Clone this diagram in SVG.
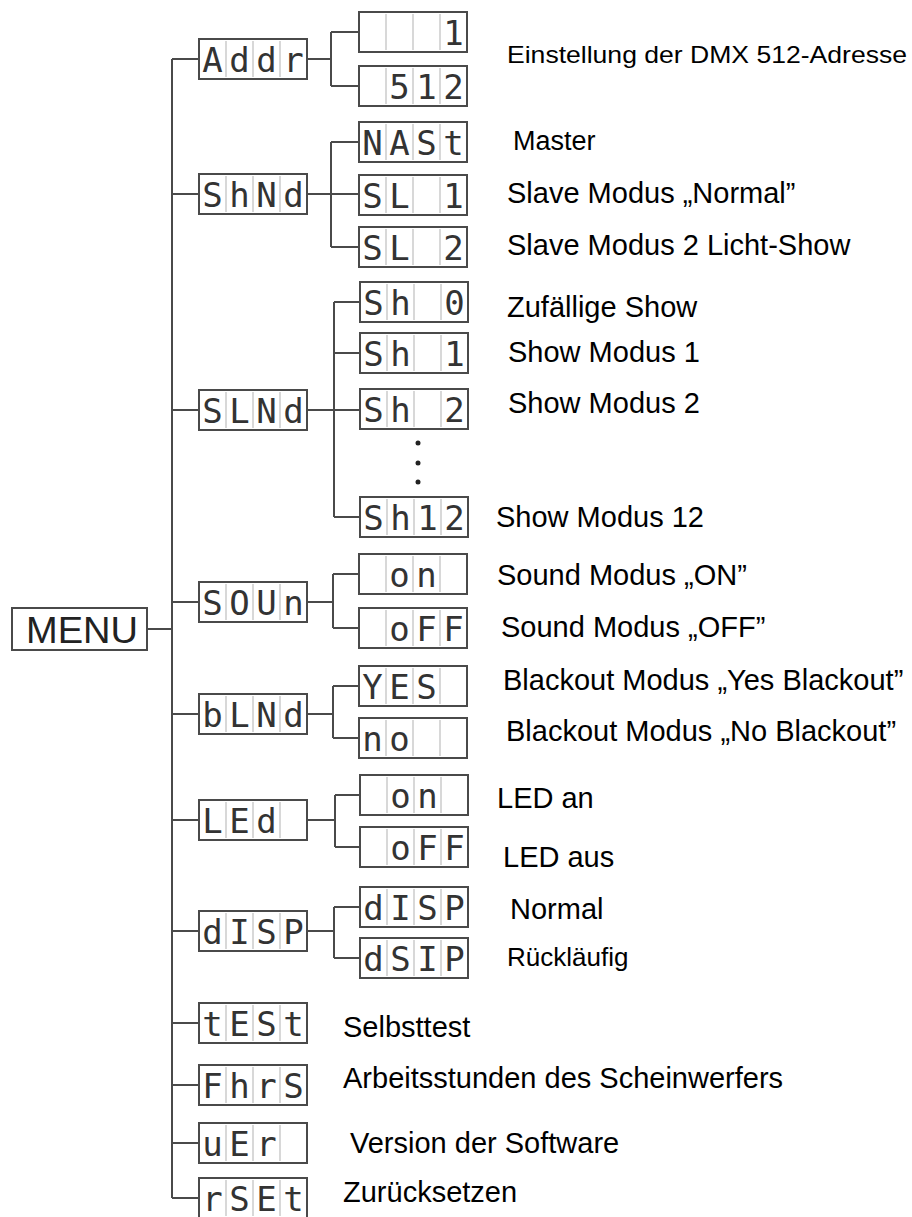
<svg xmlns="http://www.w3.org/2000/svg" xmlns:xlink="http://www.w3.org/1999/xlink" width="912" height="1217" viewBox="0 0 912 1217">
<style>
.box{fill:#fff;stroke:#4a4a4a;stroke-width:2}
.cell{stroke:#c4c4c4;stroke-width:1.3}
.seg{font-family:"DejaVu Sans Mono","Liberation Mono",monospace;font-size:34px;fill:#333;text-anchor:middle}
.lbl{font-family:"Liberation Sans",Arial,sans-serif;font-size:29px;fill:#000}
.wire{stroke:#4a4a4a;stroke-width:2;fill:none}
.menu{font-family:"Liberation Sans",Arial,sans-serif;font-size:37px;fill:#222}
</style>
<defs>
<g id="disp">
<rect class="box" x="0" y="0" width="108" height="40"/>
<path class="cell" d="M27 2V38M54 2V38M81 2V38"/>
</g>
</defs>
<rect width="912" height="1217" fill="#fff"/>
<g id="connectors">
<path class="wire" d="M172 59V1198M147 629H172"/>
<path class="wire" d="M172 59H199M172 194H199M172 410H199M172 602H199M172 714H199M172 820H199M172 931H199M172 1023H199M172 1085H199M172 1143H199M172 1198H199"/>
<path class="wire" d="M307 59H331M331 32V86M331 32H359M331 86H359"/>
<path class="wire" d="M307 194H331M331 142V247M331 142H359M331 194H359M331 247H359"/>
<path class="wire" d="M307 410H334M334 302V517M334 302H360M334 353H360M334 410H360M334 517H360"/>
<path class="wire" d="M307 602H333M333 574V628M333 574H359M333 628H359"/>
<path class="wire" d="M307 714H333M333 686V738M333 686H359M333 738H359"/>
<path class="wire" d="M307 820H335M335 795V847M335 795H360M335 847H360"/>
<path class="wire" d="M307 931H334M334 907V958M334 907H360M334 958H360"/>
</g>
<g id="menu">
<rect class="box" x="12" y="608" width="135" height="42"/>
<text class="menu" x="26" y="643" textLength="112" lengthAdjust="spacingAndGlyphs">MENU</text>
</g>
<g id="n-addr"><use xlink:href="#disp" x="199" y="39"/><text class="seg" x="212.5 239.5 266.5 293.5" y="72">Addr</text></g>
<g id="n-addr-1"><use xlink:href="#disp" x="359" y="12"/><text class="seg" x="453.5" y="45">1</text></g>
<g id="n-addr-512"><use xlink:href="#disp" x="359" y="66"/><text class="seg" x="399.5 426.5 453.5" y="99">512</text></g>
<g id="n-shnd"><use xlink:href="#disp" x="199" y="174"/><text class="seg" x="212.5 239.5 266.5 293.5" y="207">ShNd</text></g>
<g id="n-nast"><use xlink:href="#disp" x="359" y="122"/><text class="seg" x="372.5 399.5 426.5 453.5" y="155">NASt</text></g>
<g id="n-sl1"><use xlink:href="#disp" x="359" y="175"/><text class="seg" x="372.5 399.5 453.5" y="208">SL1</text></g>
<g id="n-sl2"><use xlink:href="#disp" x="359" y="227"/><text class="seg" x="372.5 399.5 453.5" y="260">SL2</text></g>
<g id="n-slnd"><use xlink:href="#disp" x="199" y="390"/><text class="seg" x="212.5 239.5 266.5 293.5" y="423">SLNd</text></g>
<g id="n-sh0"><use xlink:href="#disp" x="360" y="282"/><text class="seg" x="373.5 400.5 454.5" y="315">Sh0</text></g>
<g id="n-sh1"><use xlink:href="#disp" x="360" y="333"/><text class="seg" x="373.5 400.5 454.5" y="366">Sh1</text></g>
<g id="n-sh2"><use xlink:href="#disp" x="360" y="389"/><text class="seg" x="373.5 400.5 454.5" y="422">Sh2</text></g>
<g id="dots" fill="#222"><circle cx="418" cy="443" r="2.5"/><circle cx="418" cy="463" r="2.5"/><circle cx="418" cy="482" r="2.5"/></g>
<g id="n-sh12"><use xlink:href="#disp" x="360" y="497"/><text class="seg" x="373.5 400.5 427.5 454.5" y="530">Sh12</text></g>
<g id="n-soun"><use xlink:href="#disp" x="199" y="582"/><text class="seg" x="212.5 239.5 266.5 293.5" y="615">SOUn</text></g>
<g id="n-son"><use xlink:href="#disp" x="359" y="554"/><text class="seg" x="399.5 426.5" y="587">on</text></g>
<g id="n-soff"><use xlink:href="#disp" x="359" y="608"/><text class="seg" x="399.5 426.5 453.5" y="641">oFF</text></g>
<g id="n-blnd"><use xlink:href="#disp" x="199" y="694"/><text class="seg" x="212.5 239.5 266.5 293.5" y="727">bLNd</text></g>
<g id="n-yes"><use xlink:href="#disp" x="359" y="666"/><text class="seg" x="372.5 399.5 426.5" y="699">YES</text></g>
<g id="n-no"><use xlink:href="#disp" x="359" y="718"/><text class="seg" x="372.5 399.5" y="751">no</text></g>
<g id="n-led"><use xlink:href="#disp" x="199" y="800"/><text class="seg" x="212.5 239.5 266.5" y="833">LEd</text></g>
<g id="n-lon"><use xlink:href="#disp" x="360" y="775"/><text class="seg" x="400.5 427.5" y="808">on</text></g>
<g id="n-loff"><use xlink:href="#disp" x="360" y="827"/><text class="seg" x="400.5 427.5 454.5" y="860">oFF</text></g>
<g id="n-disp"><use xlink:href="#disp" x="199" y="911"/><text class="seg" x="212.5 239.5 266.5 293.5" y="944">dISP</text></g>
<g id="n-disp1"><use xlink:href="#disp" x="360" y="887"/><text class="seg" x="373.5 400.5 427.5 454.5" y="920">dISP</text></g>
<g id="n-dsip"><use xlink:href="#disp" x="360" y="938"/><text class="seg" x="373.5 400.5 427.5 454.5" y="971">dSIP</text></g>
<g id="n-test"><use xlink:href="#disp" x="199" y="1003"/><text class="seg" x="212.5 239.5 266.5 293.5" y="1036">tESt</text></g>
<g id="n-fhrs"><use xlink:href="#disp" x="199" y="1065"/><text class="seg" x="212.5 239.5 266.5 293.5" y="1098">FhrS</text></g>
<g id="n-ver"><use xlink:href="#disp" x="199" y="1123"/><text class="seg" x="212.5 239.5 266.5" y="1156">uEr</text></g>
<g id="n-rset"><use xlink:href="#disp" x="199" y="1178"/><text class="seg" x="212.5 239.5 266.5 293.5" y="1211">rSEt</text></g>
<g id="labels">
<text class="lbl" x="507" y="63" style="font-size:24px" textLength="400" lengthAdjust="spacingAndGlyphs">Einstellung der DMX 512-Adresse</text>
<text class="lbl" x="513" y="150" style="font-size:27px">Master</text>
<text class="lbl" x="507" y="203">Slave Modus „Normal”</text>
<text class="lbl" x="507" y="255">Slave Modus 2 Licht-Show</text>
<text class="lbl" x="507" y="317">Zufällige Show</text>
<text class="lbl" x="508" y="362">Show Modus 1</text>
<text class="lbl" x="508" y="413">Show Modus 2</text>
<text class="lbl" x="496" y="527">Show Modus 12</text>
<text class="lbl" x="497" y="585">Sound Modus „ON”</text>
<text class="lbl" x="501" y="637">Sound Modus „OFF”</text>
<text class="lbl" x="503" y="690">Blackout Modus „Yes Blackout”</text>
<text class="lbl" x="506" y="741">Blackout Modus „No Blackout”</text>
<text class="lbl" x="497" y="808">LED an</text>
<text class="lbl" x="503" y="867">LED aus</text>
<text class="lbl" x="510" y="919">Normal</text>
<text class="lbl" x="507" y="966" style="font-size:26px">Rückläufig</text>
<text class="lbl" x="343" y="1037">Selbsttest</text>
<text class="lbl" x="343" y="1088">Arbeitsstunden des Scheinwerfers</text>
<text class="lbl" x="350" y="1153">Version der Software</text>
<text class="lbl" x="343" y="1202">Zurücksetzen</text>
</g>
</svg>
